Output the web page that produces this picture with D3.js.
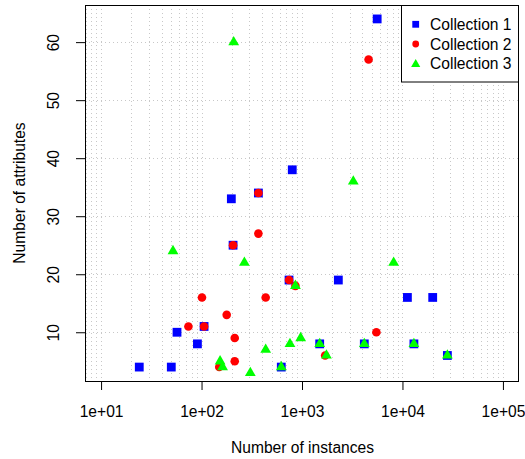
<!DOCTYPE html>
<html>
<head>
<meta charset="utf-8">
<script src="https://cdn.jsdelivr.net/npm/d3@7"></script>
<style>
  html, body { margin: 0; padding: 0; background: #fff; }
  svg text { font-family: "Liberation Sans", Arial, Helvetica, sans-serif; fill: #000; }
</style>
</head>
<body>
<svg id="chart" width="525" height="459"></svg>
<script>
// Datasets: number of instances (x) vs number of attributes (y)
const c1Instances = [24, 50, 91, 57, 106, 198, 368, 206, 743, 800, 622, 1500, 2300, 4170, 5600, 11200, 13000, 20000, 28000];
const c1Attributes = [4, 4, 8, 10, 11, 33, 34, 25, 19, 38, 4, 8, 19, 8, 64, 16, 8, 16, 6];

const c2Instances = [368, 206, 368, 743, 860, 101, 435, 178, 74, 106, 214, 214, 150, 5500, 1700, 4600];
const c2Attributes = [34, 25, 27, 19, 18, 16, 16, 13, 11, 11, 9, 5, 4, 10, 6, 57];

const c3Instances = [209, 52, 267, 3240, 8170, 860, 970, 759, 435, 153, 162, 306, 622, 1500, 1750, 4170, 13000, 28000];
const c3Attributes = [60, 24, 22, 36, 22, 18, 9, 8, 7, 5, 4, 3, 4, 8, 6, 8, 8, 6];

const seriesNames = ["Collection 1", "Collection 2", "Collection 3"];
const seriesColors = ["#0000ff", "#ff0000", "#00ff00"];
const seriesShapes = ["square", "circle", "triangle"];

const xTicks = [1e1, 1e2, 1e3, 1e4, 1e5];
const xTickLabels = ["1e+01", "1e+02", "1e+03", "1e+04", "1e+05"];
const yTicks = [10, 20, 30, 40, 50, 60];

const xTitle = "Number of instances";
const yTitle = "Number of attributes";

const series = [
  { name: seriesNames[0], xs: c1Instances, ys: c1Attributes },
  { name: seriesNames[1], xs: c2Instances, ys: c2Attributes },
  { name: seriesNames[2], xs: c3Instances, ys: c3Attributes }
];

const svg = d3.select("#chart");
const plot = { left: 85, right: 519, top: 5, bottom: 381 };
const fontSize = 15.6;

const x = d3.scaleLog()
  .domain([Math.pow(10, 0.84), Math.pow(10, 5.16)])
  .range([plot.left, plot.right]);
const y = d3.scaleLinear()
  .domain([1.6, 66.4])
  .range([plot.bottom, plot.top]);

// Dotted background grid: minor log positions vertically, tick values horizontally
const gridX = [];
for (let e = 0; e <= 5; e++) {
  for (let m = 1; m <= 9; m++) {
    const v = m * Math.pow(10, e);
    if (x(v) > plot.left + 0.5 && x(v) < plot.right - 0.5) gridX.push(v);
  }
}
const grid = svg.append("g")
  .attr("stroke", "#c8c8c8")
  .attr("stroke-width", 1)
  .attr("stroke-dasharray", "1,3");
grid.selectAll("line.gx").data(gridX).enter().append("line")
  .attr("x1", d => Math.round(x(d)) + 0.5).attr("x2", d => Math.round(x(d)) + 0.5)
  .attr("y1", plot.top).attr("y2", plot.bottom);
grid.selectAll("line.gy").data(yTicks).enter().append("line")
  .attr("y1", d => Math.round(y(d)) + 0.5).attr("y2", d => Math.round(y(d)) + 0.5)
  .attr("x1", plot.left).attr("x2", plot.right);

// Symbol generators (square / filled circle / triangle centred on its centroid)
const symSize = { square: 4.4, circle: 4.3, triangle: 4.0 };
function drawMark(sel, shape, s) {
  if (shape === "square") {
    sel.append("rect").attr("x", -s).attr("y", -s).attr("width", 2 * s).attr("height", 2 * s);
  } else if (shape === "circle") {
    sel.append("circle").attr("r", s);
  } else {
    const r = 1.555 * s, hw = 1.347 * s, yc = 0.778 * s;
    sel.append("path").attr("d", `M0,${-r}L${hw},${yc}L${-hw},${yc}Z`);
  }
}

// Points
series.forEach((ser, i) => {
  const g = svg.append("g").attr("fill", seriesColors[i]);
  ser.xs.forEach((xv, j) => {
    const p = g.append("g").attr("transform", `translate(${x(xv)},${y(ser.ys[j])})`);
    drawMark(p, seriesShapes[i], symSize[seriesShapes[i]]);
  });
});

// Axes with outward ticks
const xAxis = d3.axisBottom(x).tickValues(xTicks).tickSize(9).tickFormat((d, i) => xTickLabels[i]);
const gx = svg.append("g").attr("transform", `translate(0,${plot.bottom})`).call(xAxis);
gx.select(".domain").remove();
gx.selectAll("text").attr("font-size", fontSize).attr("font-family", null).attr("dy", null).attr("y", 36);
gx.selectAll("line").attr("stroke", "#000");

const yAxis = d3.axisLeft(y).tickValues(yTicks).tickSize(9);
const gy = svg.append("g").attr("transform", `translate(${plot.left},0)`).call(yAxis);
gy.select(".domain").remove();
gy.selectAll("line").attr("stroke", "#000");
gy.selectAll("text")
  .attr("font-size", fontSize).attr("font-family", null)
  .attr("x", null).attr("dy", null)
  .attr("text-anchor", "middle")
  .attr("transform", "translate(-31,0) rotate(-90)")
  .attr("y", 0).attr("dy", "0.35em");

// Plot frame
svg.append("rect")
  .attr("x", plot.left + 0.5).attr("y", plot.top + 0.5)
  .attr("width", plot.right - plot.left - 1).attr("height", plot.bottom - plot.top)
  .attr("fill", "none").attr("stroke", "#000").attr("stroke-width", 1);

// Axis titles
svg.append("text").attr("x", (plot.left + plot.right) / 2 + 0.5).attr("y", 453)
  .attr("text-anchor", "middle").attr("font-size", fontSize).text(xTitle);
svg.append("text")
  .attr("transform", `translate(24.5,${(plot.top + plot.bottom) / 2}) rotate(-90)`)
  .attr("text-anchor", "middle").attr("font-size", fontSize).text(yTitle);

// Legend
const legend = { x: 401.5, y: 5.5, w: 117, h: 76.5 };
svg.append("rect").attr("x", legend.x).attr("y", legend.y)
  .attr("width", legend.w).attr("height", legend.h)
  .attr("fill", "#fff").attr("stroke", "#000");
const rowY = [24.3, 44, 63.5];
seriesNames.forEach((name, i) => {
  const g = svg.append("g").attr("transform", `translate(415.7,${rowY[i] + (seriesShapes[i] === "triangle" ? 0.8 : 0)})`)
    .attr("fill", seriesColors[i]);
  drawMark(g, seriesShapes[i], 3.4);
  svg.append("text").attr("x", 430).attr("y", rowY[i]).attr("dy", "0.36em")
    .attr("font-size", fontSize).text(name);
});
</script>
</body>
</html>
